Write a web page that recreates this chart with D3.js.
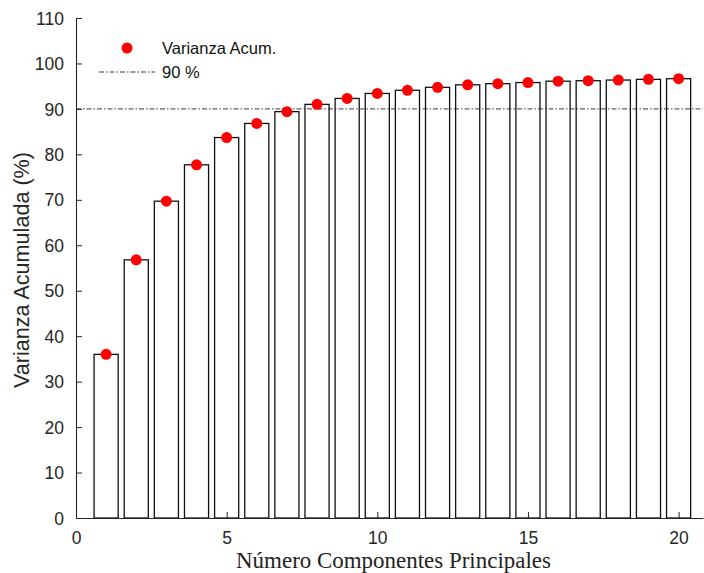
<!DOCTYPE html>
<html><head><meta charset="utf-8">
<script src="https://cdn.jsdelivr.net/npm/d3@7"></script>
<style>body{margin:0;background:#fff}svg{display:block}</style>
</head><body>
<svg id="c" width="704" height="573"></svg>
<script>
const components = [1,2,3,4,5,6,7,8,9,10,11,12,13,14,15,16,17,18,19,20];
const cumVariance = [36.0,56.8,69.7,77.7,83.7,86.8,89.4,91.0,92.3,93.4,94.1,94.75,95.3,95.55,95.8,96.1,96.2,96.35,96.5,96.65];
const threshold = 90;
const xTicks = [0,5,10,15,20];
const yTicks = [0,10,20,30,40,50,60,70,80,90,100,110];
const legendLabels = ["Varianza Acum.", "90 %"];
const xLabel = "Número Componentes Principales";
const yLabel = "Varianza Acumulada (%)";

const svg = d3.select("#c");
const L=76, R=703, T=18, B=518;
const x = d3.scaleLinear().domain([0,20.81]).range([L,R]);
const y = d3.scaleLinear().domain([0,110]).range([B,T]);
const axisColor = "#262626";
const tickFont = "'Liberation Sans', Arial, sans-serif";

// bars
const bw = x(0.8)-x(0);
svg.append("g").selectAll("rect").data(components).join("rect")
  .attr("x",(d)=>x(d)-bw/2).attr("y",(d,i)=>y(cumVariance[i]))
  .attr("width",bw).attr("height",(d,i)=>B-y(cumVariance[i]))
  .attr("fill","#fff").attr("stroke","#111").attr("stroke-width",1.3);

// threshold line
svg.append("line").attr("x1",L).attr("x2",R).attr("y1",y(threshold)).attr("y2",y(threshold))
  .attr("stroke","#222").attr("stroke-width",0.9).attr("stroke-dasharray","5,2,1.5,2");

// points
svg.append("g").selectAll("circle").data(components).join("circle")
  .attr("cx",d=>x(d)).attr("cy",(d,i)=>y(cumVariance[i])).attr("r",5.5).attr("fill","#ff0000");

// axes
const xAxis = d3.axisBottom(x).tickValues(xTicks).tickSize(-6).tickPadding(14).tickSizeOuter(0);
const gx = svg.append("g").attr("transform",`translate(0,${B})`).call(xAxis);
const yAxis = d3.axisLeft(y).tickValues(yTicks).tickSize(-6).tickPadding(12).tickSizeOuter(0);
const gy = svg.append("g").attr("transform",`translate(${L},0)`).call(yAxis);
[gx,gy].forEach(g=>{
  g.select(".domain").attr("stroke",axisColor).attr("stroke-width",1.1);
  g.selectAll(".tick line").attr("stroke",axisColor).attr("stroke-width",1);
  g.selectAll(".tick text").attr("fill",axisColor).style("font-family",tickFont).style("font-size","17.5px");
});
gx.selectAll(".tick text").attr("dy","0.71em");
gy.selectAll(".tick text").attr("dy","0.35em");

// axis labels
const xl = svg.append("text").attr("x",(236+551)/2).attr("y",568).attr("text-anchor","middle")
  .style("font-family","'Liberation Serif','DejaVu Serif',serif").style("font-size","20px").attr("fill","#222").text(xLabel);
let w = xl.node().getComputedTextLength();
xl.style("font-size",(20*315/w).toFixed(2)+"px");

const yl = svg.append("text").attr("transform","translate(29,270) rotate(-90)").attr("text-anchor","middle")
  .style("font-family",tickFont).style("font-size","21px").attr("fill",axisColor).text(yLabel);
w = yl.node().getComputedTextLength();
yl.style("font-size",(21*236/w).toFixed(2)+"px");

// legend
svg.append("circle").attr("cx",127).attr("cy",48).attr("r",5.5).attr("fill","#ff0000");
svg.append("line").attr("x1",99).attr("x2",155).attr("y1",72).attr("y2",72)
  .attr("stroke","#222").attr("stroke-width",0.9).attr("stroke-dasharray","5,2,1.5,2");
svg.selectAll(".lg").data(legendLabels).join("text").attr("class","lg")
  .attr("x",162).attr("y",(d,i)=>48+i*24).attr("dy","0.35em")
  .style("font-family",tickFont).style("font-size","16.5px").attr("fill","#111").text(d=>d);
</script>
</body></html>
